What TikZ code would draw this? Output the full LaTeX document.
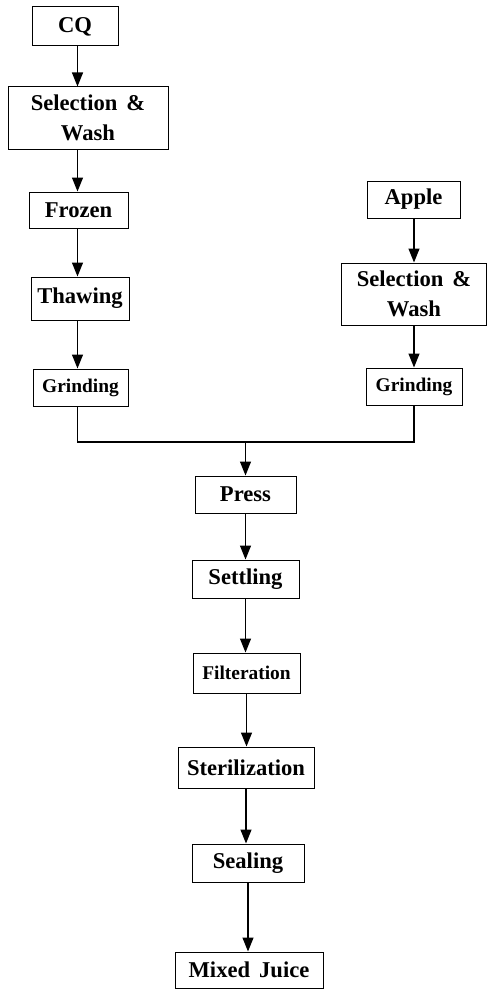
\documentclass[tikz,border=0pt]{standalone}
\usepackage{fontspec}
\setmainfont{Liberation Serif}
\usetikzlibrary{arrows.meta}

\begin{document}
\begin{tikzpicture}[x=0.5pt,y=-0.5pt,
    box/.style={draw,line width=0.5pt,inner sep=0pt,align=center,
      font=\bfseries\fontsize{11.3}{15}\selectfont},
    smallbox/.style={box,font=\bfseries\fontsize{9.7}{12}\selectfont},
    arr/.style={-{Triangle[length=7pt,width=5.5pt]},line width=0.6pt}]

    % fix the page size
    \useasboundingbox (0,0) rectangle (487,990);

    % column axes for the arrows
    \coordinate (colL) at (77.5,0);
    \coordinate (colR) at (414,0);
    \coordinate (colM) at (246.5,0);

    % left branch
    \node[box,minimum width=43pt,minimum height=19.5pt] (cq) at (75,26.5) {CQ};
    \node[box,minimum width=80pt,minimum height=31pt] (selL) at (88,118)
      {Selection\hspace{4.5pt}\&\\Wash};
    \node[box,minimum width=49.5pt,minimum height=18pt] (frozen) at (78.5,210) {Frozen};
    \node[box,minimum width=49pt,minimum height=21.5pt] (thaw) at (80,298.5) {Thawing};
    \node[smallbox,minimum width=47.5pt,minimum height=18.5pt] (grindL) at (80.5,387.5) {Grinding};

    % right branch
    \node[box,minimum width=46.5pt,minimum height=18.5pt] (apple) at (413.5,199.5) {Apple};
    \node[box,minimum width=72.5pt,minimum height=31pt] (selR) at (414,294)
      {Selection\hspace{4.5pt}\&\\Wash};
    \node[smallbox,minimum width=48pt,minimum height=18.5pt] (grindR) at (414,386.5) {Grinding};

    % main line
    \node[box,minimum width=50.5pt,minimum height=18.5pt] (press) at (245.5,494.5) {Press};
    \node[box,minimum width=53.5pt,minimum height=19pt] (settle) at (245.5,579) {Settling};
    \node[smallbox,minimum width=53.5pt,minimum height=20pt] (filter) at (246.5,673) {Filteration};
    \node[box,minimum width=68pt,minimum height=20.5pt] (steril) at (246,767.5) {Sterilization};
    \node[box,minimum width=56pt,minimum height=19pt] (seal) at (248,863) {Sealing};
    \node[box,minimum width=74pt,minimum height=18pt] (mixed) at (249,970)
      {Mixed\hspace{4.5pt}Juice};

    % arrows of both branches
    \foreach \a/\b in {cq/selL, selL/frozen, frozen/thaw, thaw/grindL} {
      \draw [arr] (\a.south -| colL) -- (\b.north -| colL);
    }
    \foreach \a/\b in {apple/selR, selR/grindR} {
      \draw [arr] (\a.south -| colR) -- (\b.north -| colR);
    }

    % join the two branches
    \coordinate (merge) at (246,442);
    \draw [line width=0.6pt] (grindL.south -| colL) |- (merge) -| (grindR.south -| colR);
    \draw [arr] (merge) -- (press.north |- merge) -- (press.north);

    % arrows of the main line
    \foreach \a/\b in {press/settle, settle/filter, filter/steril, steril/seal, seal/mixed} {
      \draw [arr] (\a.south) -- (\a.south |- \b.north);
    }

\end{tikzpicture}
\end{document}
